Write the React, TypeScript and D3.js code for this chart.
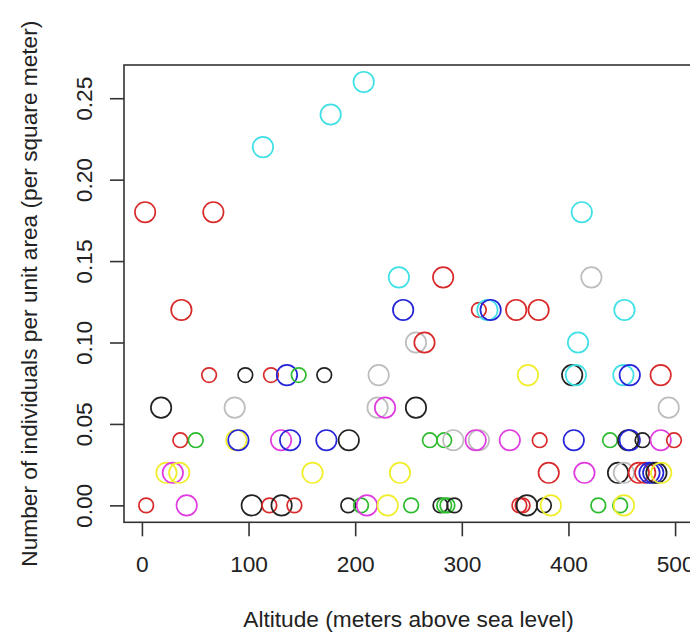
import React, { useRef, useEffect } from 'react';
import * as d3 from 'd3';

// altitude (m), density (per m²), colour group and point size class, in plotting order
const altitude = [
  208, 177, 113.5,
  3, 67, 412.5,
  241, 282.5, 421.5,
  37, 245, 316, 324, 327, 351, 372, 452.5,
  257, 265, 409,
  63, 97, 121, 136, 147, 171, 222, 362, 403.5, 407, 451.5, 457.5, 486.5,
  18, 87, 221, 228, 257, 494,
  36, 50.5, 88.5, 90.5, 130.5, 139, 173, 194, 270, 283.5, 292, 316, 313, 345, 373, 405, 439, 456, 457.5, 469.5, 486.5, 499,
  23, 29, 35, 160, 242, 381.5, 415, 446.5, 452, 466, 472, 476, 479.5, 482.5, 487,
  4, 42, 103, 119.5, 131, 143, 193.5, 205.5, 211, 230.5, 252.5, 280, 283.5, 286.5, 293, 354, 357, 361, 377, 383.5, 428, 448.5, 452,
];

const density = [
  0.26, 0.24, 0.22,
  0.18, 0.18, 0.18,
  0.14, 0.14, 0.14,
  0.12, 0.12, 0.12, 0.12, 0.12, 0.12, 0.12, 0.12,
  0.10, 0.10, 0.10,
  0.08, 0.08, 0.08, 0.08, 0.08, 0.08, 0.08, 0.08, 0.08, 0.08, 0.08, 0.08, 0.08,
  0.06, 0.06, 0.06, 0.06, 0.06, 0.06,
  0.04, 0.04, 0.04, 0.04, 0.04, 0.04, 0.04, 0.04, 0.04, 0.04, 0.04, 0.04, 0.04, 0.04, 0.04, 0.04, 0.04, 0.04, 0.04, 0.04, 0.04, 0.04,
  0.02, 0.02, 0.02, 0.02, 0.02, 0.02, 0.02, 0.02, 0.02, 0.02, 0.02, 0.02, 0.02, 0.02, 0.02,
  0, 0, 0, 0, 0, 0, 0, 0, 0, 0, 0, 0, 0, 0, 0, 0, 0, 0, 0, 0, 0, 0, 0,
];

const group = [
  'cyan', 'cyan', 'cyan',
  'red', 'red', 'cyan',
  'cyan', 'red', 'gray',
  'red', 'blue', 'red', 'cyan', 'blue', 'red', 'red', 'cyan',
  'gray', 'red', 'cyan',
  'red', 'black', 'red', 'blue', 'green', 'black', 'gray', 'yellow', 'black', 'cyan', 'cyan', 'blue', 'red',
  'black', 'gray', 'gray', 'magenta', 'black', 'gray',
  'red', 'green', 'yellow', 'blue', 'magenta', 'blue', 'blue', 'black', 'green', 'green', 'gray', 'gray', 'magenta', 'magenta', 'red', 'blue', 'green', 'black', 'blue', 'black', 'magenta', 'red',
  'yellow', 'magenta', 'yellow', 'yellow', 'yellow', 'red', 'magenta', 'black', 'gray', 'red', 'red', 'blue', 'blue', 'black', 'yellow',
  'red', 'magenta', 'black', 'red', 'black', 'red', 'black', 'green', 'magenta', 'yellow', 'green', 'black', 'green', 'green', 'black', 'red', 'red', 'black', 'black', 'yellow', 'green', 'green', 'yellow',
];

const sizeClass = [
  'L', 'L', 'L',
  'L', 'L', 'L',
  'L', 'L', 'L',
  'L', 'L', 'S', 'L', 'L', 'L', 'L', 'L',
  'L', 'L', 'L',
  'S', 'S', 'S', 'L', 'S', 'S', 'L', 'L', 'L', 'L', 'L', 'L', 'L',
  'L', 'L', 'L', 'L', 'L', 'L',
  'S', 'S', 'L', 'L', 'L', 'L', 'L', 'L', 'S', 'S', 'L', 'L', 'L', 'L', 'S', 'L', 'S', 'L', 'L', 'S', 'L', 'S',
  'L', 'L', 'L', 'L', 'L', 'L', 'L', 'L', 'L', 'L', 'L', 'L', 'L', 'L', 'L',
  'S', 'L', 'L', 'S', 'L', 'S', 'S', 'S', 'L', 'L', 'S', 'S', 'S', 'S', 'S', 'S', 'S', 'L', 'S', 'L', 'S', 'S', 'L',
];

const xTicks = [0, 100, 200, 300, 400, 500];
const yTicks = [0, 0.05, 0.1, 0.15, 0.2, 0.25];

const FONT = '"Liberation Sans", Arial, Helvetica, sans-serif';
const FONT_SIZE = 22.7;

const ScatterPlot = ({ width = 690, height = 633 }) => {
  const svgRef = useRef(null);

  useEffect(() => {
    const svg = d3.select(svgRef.current)
      .attr('width', width)
      .attr('height', height);

    svg.selectAll('*').remove();

    // plot region (R style, 4% padding around data range)
    const left = 124, right = 693, top = 65, bottom = 522.3;

    const x = d3.scaleLinear().domain([-16.8, 516.8]).range([left, right]);
    const y = d3.scaleLinear().domain([-0.0104, 0.2704]).range([bottom, top]);

    const color = d3.scaleOrdinal()
      .domain(['black', 'red', 'green', 'blue', 'cyan', 'magenta', 'yellow', 'gray'])
      .range(['#222222', '#d82a2a', '#2dbb2d', '#2424d8', '#3fe0e6', '#e03be0', '#f0ee2a', '#bdbdbd']);
    const radius = d3.scaleOrdinal().domain(['S', 'L']).range([7.3, 10.2]);

    const data = altitude.map((a, i) => ({ a, d: density[i], g: group[i], s: sizeClass[i] }));

    svg.append('rect')
      .attr('width', width).attr('height', height).attr('fill', '#fff');

    // points
    svg.append('g')
      .selectAll('circle')
      .data(data)
      .enter()
      .append('circle')
      .attr('cx', p => x(p.a))
      .attr('cy', p => y(p.d))
      .attr('r', p => radius(p.s))
      .attr('fill', 'none')
      .attr('stroke', p => color(p.g))
      .attr('stroke-width', 1.7);

    // box
    svg.append('rect')
      .attr('x', left).attr('y', top)
      .attr('width', right - left).attr('height', bottom - top)
      .attr('fill', 'none')
      .attr('stroke', '#333')
      .attr('stroke-width', 1.6);

    // x axis
    const xAxis = svg.append('g')
      .attr('transform', `translate(0, ${bottom})`)
      .call(d3.axisBottom(x).tickValues(xTicks).tickSize(14).tickPadding(20).tickFormat(d3.format('d')));
    xAxis.select('.domain').remove();
    xAxis.selectAll('line').attr('stroke', '#333').attr('stroke-width', 1.6);
    xAxis.selectAll('text')
      .attr('font-family', FONT).attr('font-size', FONT_SIZE).attr('fill', '#222');

    // y axis, labels rotated like R's default las=0
    const yAxis = svg.append('g')
      .attr('transform', `translate(${left}, 0)`)
      .call(d3.axisLeft(y).tickValues(yTicks).tickSize(14).tickFormat(d3.format('.2f')));
    yAxis.select('.domain').remove();
    yAxis.selectAll('line').attr('stroke', '#333').attr('stroke-width', 1.6);
    yAxis.selectAll('text')
      .attr('x', null).attr('dy', null)
      .attr('text-anchor', 'middle')
      .attr('transform', `translate(${91.7 - left}, 0) rotate(-90)`)
      .attr('font-family', FONT).attr('font-size', FONT_SIZE).attr('fill', '#222');

    // axis titles
    svg.append('text')
      .attr('x', (left + right) / 2)
      .attr('y', 627)
      .attr('text-anchor', 'middle')
      .attr('font-family', FONT).attr('font-size', FONT_SIZE).attr('fill', '#222')
      .text('Altitude (meters above sea level)');

    svg.append('text')
      .attr('transform', `translate(36.5, ${(top + bottom) / 2}) rotate(-90)`)
      .attr('text-anchor', 'middle')
      .attr('font-family', FONT).attr('font-size', FONT_SIZE).attr('fill', '#222')
      .text('Number of individuals per unit area (per square meter)');
  }, [width, height]);

  return <svg ref={svgRef} style={{ position: 'absolute', left: 0, top: 0 }}></svg>;
};

export default function App() {
  return <ScatterPlot />;
}
